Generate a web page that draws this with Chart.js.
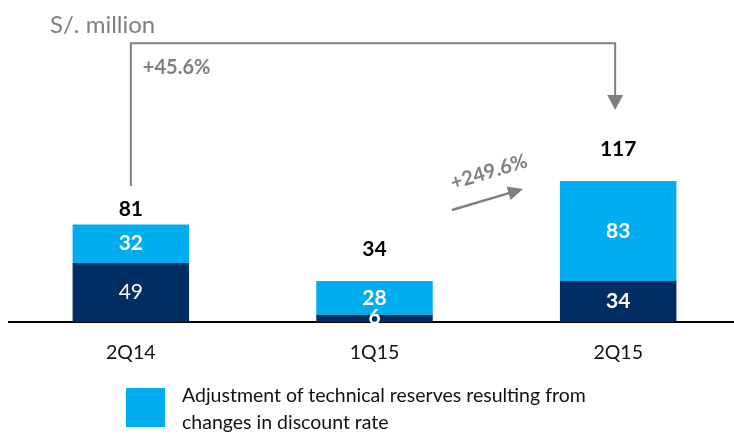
<!DOCTYPE html>
<html>
<head>
<meta charset="utf-8">
<script src="https://cdn.jsdelivr.net/npm/chart.js@4.4.0/dist/chart.umd.min.js"></script>
<style>
  html, body { margin: 0; padding: 0; background: #fff; overflow: hidden; }
  #wrap { position: relative; width: 746px; height: 434px; }
  #legend { position: absolute; left: 126px; top: 381px; font-family: Lato, sans-serif; font-size: 19.5px; color: #111; }
  #legend .sw { position: absolute; left: 0; top: 7px; width: 39px; height: 39px; background: #00AEEF; }
  #legend .tx { position: absolute; left: 56px; top: 0; width: 540px; line-height: 27px; white-space: nowrap; }
</style>
</head>
<body>
<div id="wrap">
  <canvas id="c"></canvas>
  <div id="legend"><div class="sw"></div><div class="tx">Adjustment of technical reserves resulting from<br>changes in discount rate</div></div>
</div>
<script>
// ---- data ----
const categories = ["2Q14", "1Q15", "2Q15"];
const baseValues = [49, 6, 34];          // dark segment
const adjustmentValues = [32, 28, 83];   // light segment (discount-rate adjustment)
const totals = [81, 34, 117];
const unitLabel = "S/. million";
const yoyLabel = "+45.6%";
const qoqLabel = "+249.6%";

// ---- styles ----
const DARK = "#002D62";
const LIGHT = "#00AEEF";
const GRAY = "#808080";
const FONT = "Lato, sans-serif";
const totalGap = [15, 32, 32];
const baseBold = [false, true, true];

const labelsPlugin = {
  id: "labels",
  afterDatasetsDraw(chart) {
    const ctx = chart.ctx;
    const m0 = chart.getDatasetMeta(0), m1 = chart.getDatasetMeta(1);
    ctx.save();
    ctx.textAlign = "center";
    ctx.textBaseline = "middle";
    ctx.fillStyle = "#fff";
    m0.data.forEach((b, i) => {
      ctx.font = (baseBold[i] ? "bold " : "") + "21px " + FONT;
      ctx.fillText(String(baseValues[i]), b.x, (b.y + b.base) / 2 + (i === 1 ? -1 : 0));
    });
    m1.data.forEach((b, i) => {
      ctx.font = "bold 21px " + FONT;
      ctx.fillText(String(adjustmentValues[i]), b.x, (b.y + b.base) / 2);
    });
    ctx.fillStyle = "#000";
    ctx.font = "bold 21px " + FONT;
    m1.data.forEach((b, i) => {
      ctx.fillText(String(totals[i]), b.x, b.y - totalGap[i]);
    });
    ctx.restore();
  },
  afterDraw(chart) {
    const ctx = chart.ctx, x = chart.scales.x, y = chart.scales.y;
    ctx.save();
    // unit label
    ctx.fillStyle = GRAY;
    ctx.font = "24px " + FONT;
    ctx.textAlign = "left";
    ctx.textBaseline = "alphabetic";
    ctx.fillText(unitLabel, 50, 33);
    // bracket arrow
    const xl = x.getPixelForValue(0), xr = x.getPixelForValue(2) - 3;
    const yTop = y.getPixelForValue(231.5), yLeftBot = y.getPixelForValue(113), yTip = y.getPixelForValue(176);
    ctx.strokeStyle = GRAY; ctx.fillStyle = GRAY; ctx.lineWidth = 2;
    ctx.beginPath();
    ctx.moveTo(xl, yLeftBot); ctx.lineTo(xl, yTop); ctx.lineTo(xr, yTop); ctx.lineTo(xr, yTip - 14);
    ctx.stroke();
    ctx.beginPath();
    ctx.moveTo(xr - 8, yTip - 15); ctx.lineTo(xr + 8, yTip - 15); ctx.lineTo(xr, yTip); ctx.closePath(); ctx.fill();
    ctx.font = "bold 20px " + FONT;
    ctx.textBaseline = "middle";
    ctx.fillText(yoyLabel, xl + 12, 68);
    // diagonal arrow
    const ax0 = 452, ay0 = 210, ax1 = 523, ay1 = 189;
    const ang = Math.atan2(ay1 - ay0, ax1 - ax0);
    ctx.lineWidth = 2.5;
    ctx.beginPath();
    ctx.moveTo(ax0, ay0);
    ctx.lineTo(ax1 - 12 * Math.cos(ang), ay1 - 12 * Math.sin(ang));
    ctx.stroke();
    ctx.beginPath();
    ctx.moveTo(ax1, ay1);
    ctx.lineTo(ax1 - 15 * Math.cos(ang) + 7 * Math.sin(ang), ay1 - 15 * Math.sin(ang) - 7 * Math.cos(ang));
    ctx.lineTo(ax1 - 15 * Math.cos(ang) - 7 * Math.sin(ang), ay1 - 15 * Math.sin(ang) + 7 * Math.cos(ang));
    ctx.closePath(); ctx.fill();
    ctx.translate(489, 172);
    ctx.rotate(-17 * Math.PI / 180);
    ctx.textAlign = "center";
    ctx.fillText(qoqLabel, 0, 0);
    ctx.restore();
  }
};

new Chart(document.getElementById("c"), {
  type: "bar",
  data: {
    labels: categories,
    datasets: [
      { label: "Base", data: baseValues, backgroundColor: DARK, borderWidth: 0 },
      { label: "Adjustment of technical reserves resulting from changes in discount rate", data: adjustmentValues, backgroundColor: LIGHT, borderWidth: 0 }
    ]
  },
  options: {
    responsive: true,
    maintainAspectRatio: false,
    animation: false,
    events: [],
    layout: { padding: { left: 9, right: 6, top: 10, bottom: 62 } },
    datasets: { bar: { categoryPercentage: 1, barPercentage: 0.478 } },
    plugins: { legend: { display: false }, tooltip: { enabled: false } },
    scales: {
      x: {
        stacked: true,
        grid: { display: false, drawTicks: false },
        border: { display: true, color: "#000", width: 2 },
        ticks: { color: "#111", font: { family: FONT, size: 19.5 }, padding: 19 },
        afterFit(s) { s.height = 50; }
      },
      y: { stacked: true, display: false, min: 0, max: 259 }
    }
  },
  plugins: [labelsPlugin]
});
</script>
</body>
</html>
